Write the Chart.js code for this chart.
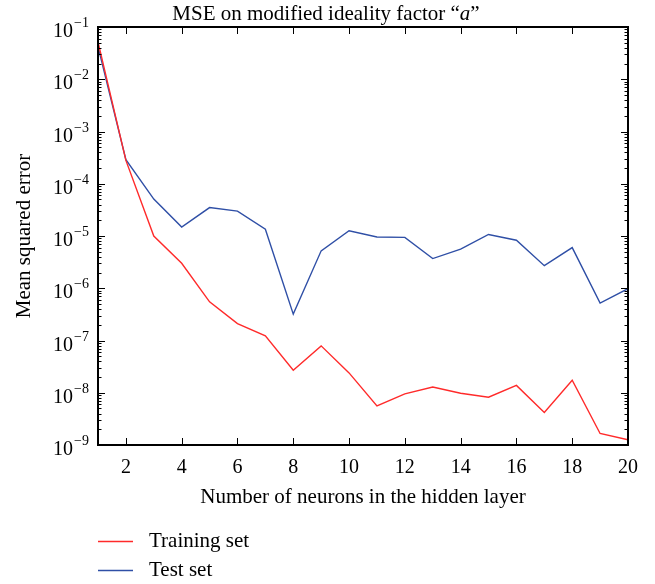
<!DOCTYPE html>
<html>
<head>
<meta charset="UTF-8">
<script src="https://cdn.jsdelivr.net/npm/chart.js"></script>
<style>
  body { margin: 0; background: #fff; }
  #wrap { width: 655px; height: 584px; }
</style>
</head>
<body>
<div id="wrap"><canvas id="c" width="655" height="584"></canvas></div>
<script>
const neurons = [1,2,3,4,5,6,7,8,9,10,11,12,13,14,15,16,17,18,19,20];
const trainMse = [5.2e-2, 2.8e-4, 1.0e-5, 3.0e-6, 5.5e-7, 2.1e-7, 1.23e-7, 2.7e-8, 7.9e-8, 2.4e-8,
                  5.6e-9, 9.5e-9, 1.29e-8, 9.8e-9, 8.2e-9, 1.38e-8, 4.2e-9, 1.74e-8, 1.66e-9, 1.26e-9];
const testMse = [4.2e-2, 2.9e-4, 5.1e-5, 1.48e-5, 3.5e-5, 3.0e-5, 1.35e-5, 3.2e-7, 5.2e-6, 1.26e-5,
                 9.6e-6, 9.4e-6, 3.7e-6, 5.6e-6, 1.07e-5, 8.3e-6, 2.7e-6, 6.0e-6, 5.2e-7, 9.8e-7];
const xTicks = [2,4,6,8,10,12,14,16,18,20];
const yExps = [-9,-8,-7,-6,-5,-4,-3,-2,-1];
const seriesNames = ['Training set', 'Test set'];
const colors = ['#ff2a2a', '#2f4fa6'];
const FONT = '"Liberation Serif", "DejaVu Serif", serif';

// frame, inward ticks, labels and legend drawn by hand
const decor = {
  id: 'decor',
  afterDraw(chart) {
    const {ctx, chartArea: a, scales: {x, y}} = chart;
    ctx.save();
    ctx.strokeStyle = '#000';
    ctx.fillStyle = '#000';

    // ticks
    ctx.lineWidth = 1;
    ctx.beginPath();
    xTicks.forEach(v => {
      const px = Math.round(x.getPixelForValue(v)) + 0.5;
      ctx.moveTo(px, a.bottom); ctx.lineTo(px, a.bottom - 7);
      ctx.moveTo(px, a.top); ctx.lineTo(px, a.top + 7);
    });
    yExps.forEach(e => {
      for (let m = 1; m < 10; m++) {
        if (e === -1 && m > 1) break;
        const py = Math.round(y.getPixelForValue(m * Math.pow(10, e))) + 0.5;
        const len = m === 1 ? 7 : 3.5;
        ctx.moveTo(a.left, py); ctx.lineTo(a.left + len, py);
        ctx.moveTo(a.right, py); ctx.lineTo(a.right - len, py);
      }
    });
    ctx.stroke();

    // frame
    ctx.lineWidth = 2;
    ctx.strokeRect(a.left, a.top, a.right - a.left, a.bottom - a.top);

    // x labels
    ctx.font = '20px ' + FONT;
    ctx.textAlign = 'center';
    ctx.textBaseline = 'alphabetic';
    xTicks.forEach(v => ctx.fillText(String(v), x.getPixelForValue(v), a.bottom + 28));

    // y labels 10^e
    yExps.forEach(e => {
      const py = y.getPixelForValue(Math.pow(10, e));
      const sup = '\u2212' + Math.abs(e);
      ctx.font = '14px ' + FONT;
      const sw = ctx.measureText(sup).width;
      ctx.textAlign = 'right';
      const right = a.left - 9;
      ctx.fillText(sup, right, py);
      ctx.font = '20px ' + FONT;
      ctx.fillText('10', right - sw - 1, py + 10);
    });

    // title (sits a bit left of the plot centre, as in the original)
    ctx.font = '21px ' + FONT;
    const t1 = 'MSE on modified ideality factor \u201C', t2 = 'a', t3 = '\u201D';
    const w1 = ctx.measureText(t1).width, w3 = ctx.measureText(t3).width;
    ctx.font = 'italic 21px ' + FONT;
    const w2 = ctx.measureText(t2).width;
    let tx = 326 - (w1 + w2 + w3) / 2;
    ctx.textAlign = 'left';
    ctx.font = '21px ' + FONT;
    ctx.fillText(t1, tx, 20);
    ctx.font = 'italic 21px ' + FONT;
    ctx.fillText(t2, tx + w1, 20);
    ctx.font = '21px ' + FONT;
    ctx.fillText(t3, tx + w1 + w2, 20);

    ctx.textAlign = 'center';
    ctx.fillText('Number of neurons in the hidden layer', (a.left + a.right) / 2, 503);
    ctx.save();
    ctx.translate(30, (a.top + a.bottom) / 2);
    ctx.rotate(-Math.PI / 2);
    ctx.fillText('Mean squared error', 0, 0);
    ctx.restore();

    // legend
    ctx.textAlign = 'left';
    ctx.textBaseline = 'middle';
    seriesNames.forEach((n, i) => {
      const ly = 541 + i * 29;
      ctx.strokeStyle = colors[i];
      ctx.lineWidth = 1.3;
      ctx.beginPath();
      ctx.moveTo(98, ly + 0.5); ctx.lineTo(133, ly + 0.5);
      ctx.stroke();
      ctx.fillText(n, 149, ly);
    });
    ctx.restore();
  }
};

new Chart(document.getElementById('c'), {
  type: 'line',
  data: {
    datasets: [
      { label: seriesNames[0], data: neurons.map((n, i) => ({x: n, y: trainMse[i]})),
        borderColor: colors[0], borderWidth: 1.4, pointRadius: 0, tension: 0 },
      { label: seriesNames[1], data: neurons.map((n, i) => ({x: n, y: testMse[i]})),
        borderColor: colors[1], borderWidth: 1.4, pointRadius: 0, tension: 0 }
    ]
  },
  options: {
    responsive: false,
    animation: false,
    layout: { padding: { left: 98, right: 27, top: 27, bottom: 139 } },
    plugins: { legend: { display: false }, tooltip: { enabled: false } },
    scales: {
      x: { type: 'linear', min: 1, max: 20, display: false },
      y: { type: 'logarithmic', min: 1e-9, max: 1e-1, display: false }
    }
  },
  plugins: [decor]
});
</script>
</body>
</html>
